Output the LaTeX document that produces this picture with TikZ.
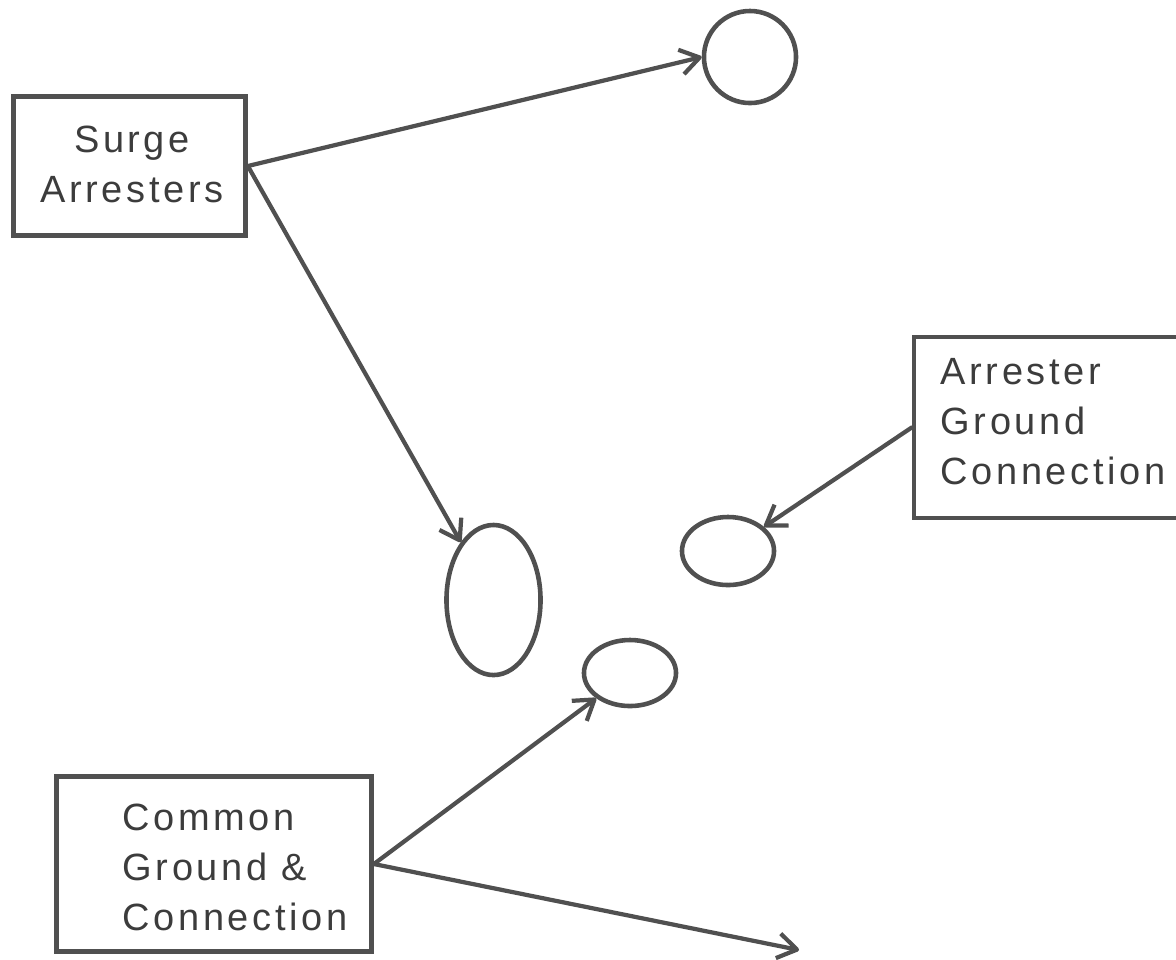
\documentclass[tikz,border=0pt]{standalone}
\usepackage{fontspec}
\setmainfont{Liberation Sans}[LetterSpace=9.5]
\usetikzlibrary{shapes.geometric,arrows.meta}

\begin{document}
\begin{tikzpicture}[x=0.01cm,y=-0.01cm]
    % Define line and text colors
    \definecolor{linegray}{RGB}{80, 80, 80}
    \definecolor{textgray}{RGB}{60, 60, 60}
    \tikzset{
        box/.style={draw=linegray, line width=1.3pt, inner sep=0pt},
        blob/.style={ellipse, draw=linegray, line width=1.3pt, inner sep=0pt},
        lbl/.style={text=textgray, inner sep=0pt, font=\fontsize{10.8}{14.2}\selectfont},
        link/.style={draw=linegray, line width=1.2pt, line cap=round,
            -{Straight Barb[length=1.9mm, width=2.5mm, line join=round]}}
    }
    \useasboundingbox (0,0) rectangle (1176,959);

    % Draw the three boxes
    \node[box, minimum width=2.32cm, minimum height=1.39cm] (surge) at (129.5,166) {};
    \node[box, minimum width=2.86cm, minimum height=1.81cm] (argr) at (1057,427.5) {};
    \node[box, minimum width=3.15cm, minimum height=1.75cm] (cogr) at (214,864) {};

    % Add the box texts
    \node[lbl, align=center, anchor=north] (surge-txt) at (132,125) {Surge\\Arresters};
    \node[lbl, align=left, anchor=north west] (argr-txt) at (940,358) {Arrester\\Ground\\Connection};
    \node[lbl, align=left, anchor=north west] (cogr-txt) at (122,803) {Common\\Ground \&\\Connection};

    % Draw the round blobs
    \foreach \nm/\cx/\cy/\w/\h in {upblob/750/57/0.92cm/0.92cm, tallblob/493.5/600/0.94cm/1.50cm,
                                   midblob/728/551/0.92cm/0.68cm, lowblob/630/673/0.92cm/0.66cm} {
        \node[blob, minimum width=\w, minimum height=\h] (\nm) at (\cx,\cy) {};
    }

    % Add the arrows
    \coordinate (loose) at (799,950);
    \draw[link] (surge.east) -- (upblob.west);
    \draw[link] (surge.east) -- (tallblob);
    \draw[link] (argr.west) -- (midblob);
    \draw[link] (cogr.east) -- (lowblob);
    \draw[link] (cogr.east) -- (loose);
\end{tikzpicture}
\end{document}
